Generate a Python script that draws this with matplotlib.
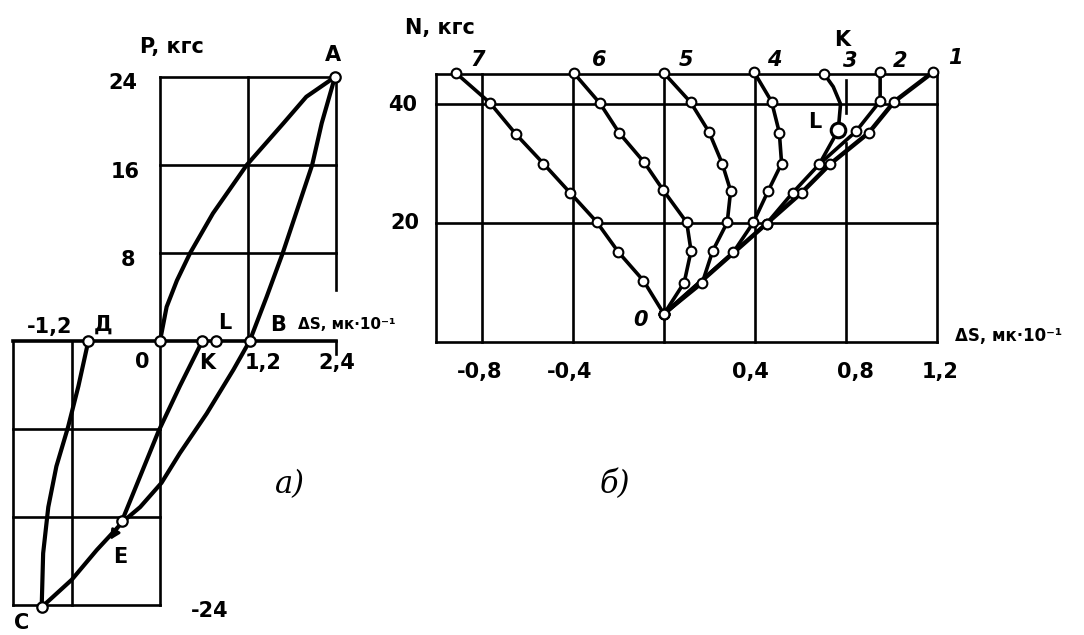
import numpy as np
import matplotlib.pyplot as plt

plt.rcParams['font.family'] = ['DejaVu Sans']

# --- panel a): P (кгс) vs ΔS (мк·10^-1), loading loop
oa_x = [0, 0.09, 0.23, 0.41, 0.72, 1.18, 1.68, 1.99, 2.38]
oa_p = [0, 3.1, 5.5, 8, 11.6, 16, 19.8, 22.2, 24]
ba_x = [1.22, 1.45, 1.67, 2.07, 2.2, 2.38]
ba_p = [0, 4, 8, 16, 19.8, 24]
bc_x = [1.22, 1.0, 0.635, 0.27, 0.02, -0.27, -0.5, -0.86, -1.2, -1.61]
bc_p = [0, -2.6, -6.6, -10.2, -12.9, -15.1, -16.4, -19.0, -21.7, -24.2]
cd_x = [-1.61, -1.59, -1.52, -1.41, -1.25, -1.11, -0.975]
cd_p = [-24.2, -19.3, -15.1, -11.4, -7.8, -4.1, 0]
ke_x = [0.576, 0.27, -0.02, -0.52]
ke_p = [0, -4.1, -8.2, -16.4]
pts_a = {'A': (2.38, 24), 'O': (0, 0), 'B': (1.22, 0), 'C': (-1.61, -24.2),
         'Д': (-0.975, 0), 'K': (0.576, 0), 'L': (0.76, 0), 'E': (-0.52, -16.4)}

# --- panel б): N (кгс) vs ΔS, curves 1..7
c1_x = [0, 0.451, 0.605, 0.73, 0.901, 1.012, 1.184]
c1_n = [4.7, 19.9, 25.1, 29.9, 35.2, 40.4, 45.4]
c2_x = [0.451, 0.566, 0.683, 0.844, 0.95, 0.95]
c2_n = [19.9, 25.1, 29.9, 35.4, 40.5, 45.3]
c3_x = [0.683, 0.766, 0.776, 0.744, 0.705]
c3_n = [29.9, 35.6, 40.0, 42.9, 45.0]
c4_x = [0, 0.305, 0.393, 0.458, 0.517, 0.507, 0.473, 0.397]
c4_n = [4.7, 15.1, 20.1, 25.4, 30.0, 35.2, 40.4, 45.3]
c5_x = [0, 0.168, 0.214, 0.278, 0.293, 0.256, 0.198, 0.117, 0.0]
c5_n = [4.7, 9.9, 15.3, 20.1, 25.4, 30.0, 35.3, 40.3, 45.2]
c6_x = [0, 0.089, 0.119, 0.1, -0.003, -0.087, -0.196, -0.281, -0.396]
c6_n = [4.7, 10.0, 15.3, 20.1, 25.5, 30.2, 35.1, 40.1, 45.2]
c7_x = [0, -0.09, -0.2, -0.296, -0.413, -0.53, -0.65, -0.765, -0.914]
c7_n = [4.7, 10.3, 15.1, 20.2, 25.1, 30.0, 34.9, 40.2, 45.2]
curve_labels = ['1', '2', '3', '4', '5', '6', '7']

W, H = 1084, 635
fig = plt.figure(figsize=(W / 100, H / 100), dpi=100)

GRID = 1.9
CURVE = 3.0
txt = dict(fontsize=15, fontweight='bold', ha='center', va='center')


def ring(ax, x, y, size=7.5, mew=1.6):
    ax.plot(x, y, 'o', ms=size, mfc='white', mec='black', mew=mew, zorder=5)


# ---------------- a)
axa = fig.add_axes([0, 0, 380 / W, 1])
axa.set_xlim(-2.177, 2.993)
axa.set_ylim(-26.73, 31.0)
axa.axis('off')

for p in [24, 16, 8]:
    axa.plot([0, 2.4], [p, p], 'k-', lw=GRID)
for p in [-8, -16, -24]:
    axa.plot([-2.0, 0], [p, p], 'k-', lw=GRID)
axa.plot([-2.0, 2.4], [0, 0], 'k-', lw=2.6)
axa.plot([0, 0], [24, -24], 'k-', lw=GRID)
axa.plot([1.2, 1.2], [24, 0], 'k-', lw=GRID)
axa.plot([2.4, 2.4], [24, 4.6], 'k-', lw=GRID)
axa.plot([2.4, 2.4], [0, -1.2], 'k-', lw=GRID)
axa.plot([-1.2, -1.2], [0, -24], 'k-', lw=GRID)
axa.plot([-2.0, -2.0], [0, -24], 'k-', lw=GRID)

for xs, ps in [(oa_x, oa_p), (ba_x, ba_p), (bc_x, bc_p), (cd_x, cd_p), (ke_x, ke_p)]:
    axa.plot(xs, ps, 'k-', lw=CURVE, solid_capstyle='round', solid_joinstyle='round')
axa.annotate('', xy=(-0.7, -18.3), xytext=(ke_x[-1], ke_p[-1]),
             arrowprops=dict(arrowstyle='-|>', color='k', lw=2, mutation_scale=14))
for name, (x, y) in pts_a.items():
    ring(axa, x, y)


def px_a(px, py):
    return (px - 160) / 73.5, (341 - py) / 11.0


for s, (px, py) in [('P, кгс', (172, 47)), ('A', (333, 55)), ('24', (123, 83)),
                    ('16', (125, 172)), ('8', (128, 260)), ('-1,2', (50, 327)),
                    ('Д', (103, 325)), ('L', (225, 323)), ('B', (278, 325)),
                    ('0', (142, 362)), ('K', (207, 363)), ('1,2', (263, 363)),
                    ('2,4', (337, 363)), ('E', (120, 557)), ('-24', (210, 611)),
                    ('C', (22, 623))]:
    axa.text(*px_a(px, py), s, **txt)
axa.text(*px_a(298, 325), 'ΔS, мк·10⁻¹', fontsize=11, fontweight='bold', ha='left', va='center')
axa.text(*px_a(290, 485), 'а)', fontsize=22, family='DejaVu Serif', style='italic',
         ha='center', va='center')

# ---------------- б)
axb = fig.add_axes([380 / W, 0, 704 / W, 1])
axb.set_xlim(-1.248, 1.846)
axb.set_ylim(-49.24, 57.48)
axb.axis('off')

for n in [45, 40, 20, 0]:
    axb.plot([-1.0, 1.2], [n, n], 'k-', lw=GRID)
for x in [-1.0, -0.8, -0.4, 0, 0.4, 1.2]:
    axb.plot([x, x], [45, 0], 'k-', lw=GRID)
axb.plot([0.8, 0.8], [44, 38.5], 'k-', lw=GRID)
axb.plot([0.8, 0.8], [33.5, 0], 'k-', lw=GRID)

curves = [(c1_x, c1_n), (c2_x, c2_n), (c3_x, c3_n), (c4_x, c4_n),
          (c5_x, c5_n), (c6_x, c6_n), (c7_x, c7_n)]
for i, (xs, ns) in enumerate(curves):
    axb.plot(xs, ns, 'k-', lw=3.2 if i == 0 else 2.6,
             solid_capstyle='round', solid_joinstyle='round')
for i, (xs, ns) in enumerate(curves):
    if i == 2:
        # curve 3: only the top point K is a regular ring, L is big
        ring(axb, xs[-1], ns[-1], size=7, mew=1.5)
        ring(axb, xs[1], ns[1], size=10.5, mew=2.2)
        continue
    ring(axb, xs, ns, size=7, mew=1.5)


def px_b(px, py):
    return (px - 664) / 227.5, (342 - py) / 5.95


for s, (px, py) in [('7', (478, 60)), ('6', (599, 60)), ('5', (686, 60)),
                    ('4', (774, 60)), ('3', (850, 61)), ('2', (900, 61)), ('1', (955, 58))]:
    axb.text(*px_b(px, py), s, fontsize=15, fontweight='bold', style='italic',
             ha='center', va='center')
for s, (px, py) in [('N, кгс', (440, 28)), ('K', (842, 40)), ('40', (403, 105)),
                    ('20', (405, 223)), ('L', (815, 122)), ('-0,8', (480, 372)),
                    ('-0,4', (570, 372)), ('0,4', (750, 372)), ('0,8', (855, 372)),
                    ('1,2', (940, 372))]:
    axb.text(*px_b(px, py), s, **txt)
axb.text(*px_b(641, 320), '0', fontsize=15, fontweight='bold', style='italic',
         ha='center', va='center')
axb.text(*px_b(955, 336), 'ΔS, мк·10⁻¹', fontsize=12, fontweight='bold', ha='left', va='center')
axb.text(*px_b(615, 485), 'б)', fontsize=22, family='DejaVu Serif', style='italic',
         ha='center', va='center')

fig.savefig('out.png', dpi=100, facecolor='white')
